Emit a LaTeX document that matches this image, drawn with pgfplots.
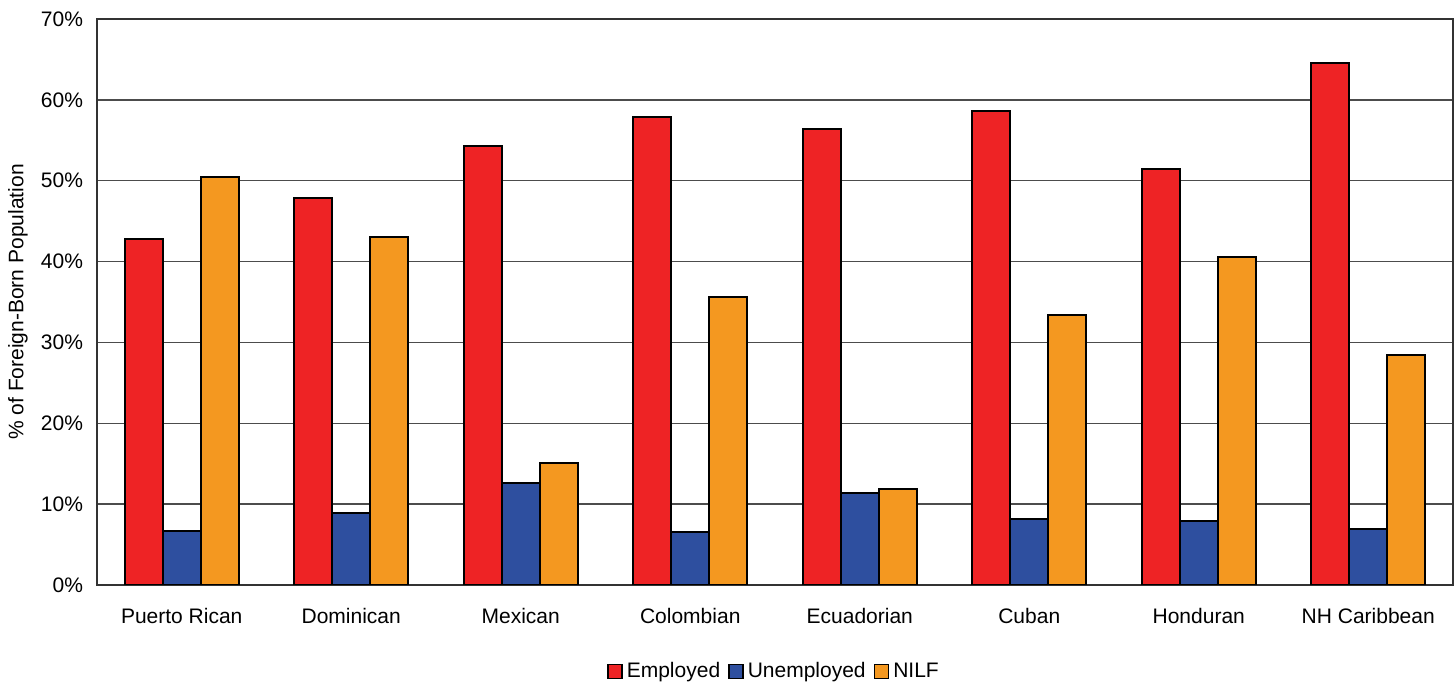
\documentclass[border=0pt]{standalone}
\usepackage{pgfplots}
\pgfplotsset{compat=1.18}
\usepackage{fontspec}
\setmainfont{Liberation Sans}
\definecolor{cEmp}{HTML}{EE2325}
\definecolor{cUnemp}{HTML}{2E4F9F}
\definecolor{cNilf}{HTML}{F49820}
\begin{document}
\begin{tikzpicture}
\begin{axis}[
  name=ax,
  scale only axis,
  width=678pt, height=283pt,
  ybar=0pt, bar width=19pt,
  xmin=-0.5, xmax=7.5,
  ymin=0, ymax=70,
  ytick={0,10,...,70},
  yticklabel={\pgfmathprintnumber{\tick}\%},
  /pgf/number format/assume math mode=true,
  xtick=data,
  xticklabels={Puerto Rican,Dominican,Mexican,Colombian,Ecuadorian,Cuban,Honduran,NH Caribbean},
  xtick style={draw=none},
  ytick style={draw=none},
  ymajorgrids,
  grid style={draw=black!70, line width=0.7pt},
  axis line style={draw=black!80, line width=0.8pt},
  tick label style={font=\fontsize{10.5}{12}\selectfont},
  xticklabel style={yshift=-4pt},
  yticklabel style={xshift=-3.5pt},
  ylabel={\% of Foreign-Born Population},
  ylabel style={at={(axis description cs:0,0.5)}, anchor=center, yshift=39.5pt, font=\fontsize{10.5}{12}\selectfont},
  legend style={at={(0.5,-0.153)}, anchor=center, draw=none, legend columns=-1,
    font=\fontsize{10.5}{12}\selectfont, /tikz/every even column/.append style={column sep=2pt}},
  legend image code/.code={\draw[#1, line width=0.8pt] (0pt,-3.5pt) rectangle (7pt,3.5pt);},
]
\addplot[fill=cEmp, draw=black, line width=1pt] coordinates {(0,42.8) (1,47.9) (2,54.3) (3,57.9) (4,56.4) (5,58.6) (6,51.4) (7,64.6)};
\addplot[fill=cUnemp, draw=black, line width=1pt] coordinates {(0,6.7) (1,8.9) (2,12.6) (3,6.5) (4,11.4) (5,8.2) (6,7.9) (7,6.9)};
\addplot[fill=cNilf, draw=black, line width=1pt] coordinates {(0,50.4) (1,43.0) (2,15.1) (3,35.6) (4,11.9) (5,33.4) (6,40.6) (7,28.4)};
\legend{Employed,Unemployed,NILF}
\end{axis}
\path ([xshift=-48.5pt,yshift=-51pt]ax.south west) rectangle ([xshift=1pt,yshift=9.5pt]ax.north east);
\end{tikzpicture}
\end{document}
